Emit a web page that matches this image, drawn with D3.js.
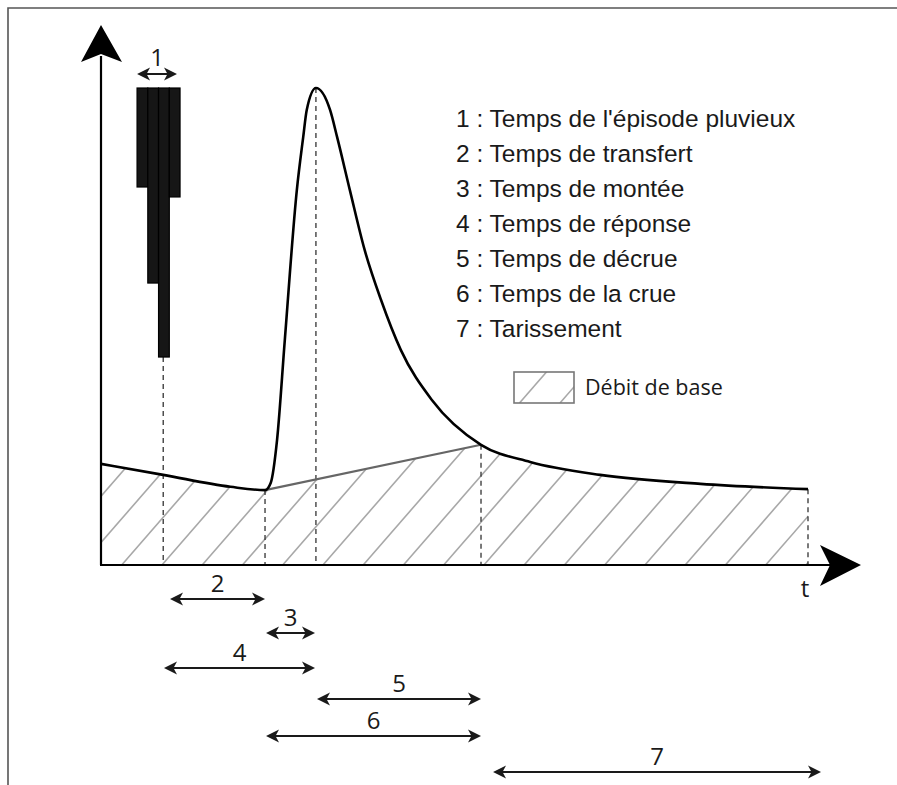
<!DOCTYPE html>
<html><head><meta charset="utf-8">
<script src="https://cdn.jsdelivr.net/npm/d3@7"></script>
<style>html,body{margin:0;padding:0;background:#fff;}svg{display:block;}</style>
</head><body>
<svg id="c" width="897" height="785"></svg>
<script>
// ---------- data ----------
const hydroT = [0, 8.8, 18.3, 23.2, 24.0, 24.9, 26.0, 27.7, 28.6, 29.1, 30.4, 32.4, 33.4, 35.2, 37.3, 39.6, 42.4, 46.8, 53.75, 60.7, 70.6, 84.8, 100];
const hydroQ = [21.2, 18.9, 16.4, 15.7, 17.2, 26.2, 47.2, 78.6, 89.7, 95.4, 100, 95.4, 89.7, 78.6, 66, 55.6, 45.1, 34.6, 25.2, 21.6, 18.9, 17.0, 15.9];
const baseT = [23.2, 53.75];
const baseQ = [15.7, 25.2];
const rainT = [5.1, 6.62, 8.14, 9.66];
const rainWidth = 1.52;
const rainI = [36.8, 72.5, 100, 40.5];
const markerT = [8.8, 23.2, 30.4, 53.75, 100];
const markerQ = [43.6, 15.7, 100, 25.2, 15.9];
const spanLabels = ["2", "3", "4", "5", "6", "7"];
const spanStart = [9.76, 23.34, 8.91, 30.55, 23.34, 55.45];
const spanEnd = [23.2, 30.27, 30.27, 53.75, 53.75, 101.84];
const rainSpan = [5.1, 10.75];
const legendItems = ["1 : Temps de l'épisode pluvieux", "2 : Temps de transfert", "3 : Temps de montée",
  "4 : Temps de réponse", "5 : Temps de décrue", "6 : Temps de la crue", "7 : Tarissement"];
const baseLegend = "Débit de base";
const axisLabel = "t";

// ---------- layout ----------
const spanRowY = [599, 633, 668, 699, 736, 772];
const svg = d3.select("#c");
const x = d3.scaleLinear().domain([0, 100]).range([101, 808]);
const y = d3.scaleLinear().domain([0, 100]).range([565, 88]);
const rainScale = d3.scaleLinear().domain([0, 100]).range([y(100), y(43.6)]);
const ink = "#1a1a1a";
const numFont = "'Open Sans', 'DejaVu Sans', sans-serif";

// border
svg.append("path").attr("d", "M8,790V8H900").attr("fill", "none").attr("stroke", "#555").attr("stroke-width", 1.6);

const defs = svg.append("defs");
const hydro = hydroT.map((t, i) => [t, hydroQ[i]]);
// clip A: under hydrograph
defs.append("clipPath").attr("id", "clipA").append("path")
  .attr("d", d3.area().x(d => x(d[0])).y0(y(0)).y1(d => y(d[1])).curve(d3.curveMonotoneX)(hydro));
// clip B: below baseflow separation line
const bpoly = [[-10, 200], [baseT[0], 200], [baseT[0], baseQ[0]], [baseT[1], baseQ[1]], [baseT[1], 200], [120, 200], [120, -10], [-10, -10]];
defs.append("clipPath").attr("id", "clipB").append("path")
  .attr("d", "M" + bpoly.map(p => x(p[0]) + "," + y(p[1])).join("L") + "Z");

// hatch
const slope = 1.15, step = 40.25, x0 = 121.7;
const gA = svg.append("g").attr("clip-path", "url(#clipA)");
const gB = gA.append("g").attr("clip-path", "url(#clipB)");
const H = 300;
for (let k = -8; k < 20; k++) {
  const bx = x0 + k * step;
  gB.append("line").attr("x1", bx).attr("y1", y(0)).attr("x2", bx + H / slope).attr("y2", y(0) - H)
    .attr("stroke", "#a8a8a8").attr("stroke-width", 1.6);
}

// dashed markers
svg.append("g").selectAll("line").data(markerT).join("line")
  .attr("x1", d => x(d)).attr("x2", d => x(d))
  .attr("y1", (d, i) => y(markerQ[i])).attr("y2", y(0))
  .attr("stroke", "#333").attr("stroke-width", 1.3).attr("stroke-dasharray", "5,4");

// rain bars
svg.append("g").selectAll("rect").data(rainI).join("rect")
  .attr("x", (d, i) => x(rainT[i])).attr("width", x(rainWidth) - x(0))
  .attr("y", rainScale(0)).attr("height", d => rainScale(d) - rainScale(0))
  .attr("fill", "#161616").attr("stroke", "#000").attr("stroke-width", 1.2);

// baseflow line
svg.append("path").attr("d", d3.line().x((d, i) => x(d)).y((d, i) => y(baseQ[i]))(baseT))
  .attr("fill", "none").attr("stroke", "#666").attr("stroke-width", 2.2);

// hydrograph
svg.append("path").attr("d", d3.line().x(d => x(d[0])).y(d => y(d[1])).curve(d3.curveMonotoneX)(hydro))
  .attr("fill", "none").attr("stroke", "#000").attr("stroke-width", 2.6).attr("stroke-linejoin", "round");

// axes
svg.append("line").attr("x1", x(0)).attr("y1", y(0)).attr("x2", x(0)).attr("y2", 56).attr("stroke", "#000").attr("stroke-width", 2.2);
svg.append("line").attr("x1", x(0) - 1).attr("y1", y(0)).attr("x2", 832).attr("y2", y(0)).attr("stroke", "#000").attr("stroke-width", 2.2);
svg.append("path").attr("d", `M${x(0)},25L${x(0) + 21},62L${x(0)},54L${x(0) - 20},62Z`).attr("fill", "#000");
svg.append("path").attr("d", `M861,${y(0)}L820,${y(0) - 20}L830,${y(0)}L820,${y(0) + 21}Z`).attr("fill", "#000");
svg.append("text").attr("x", 805).attr("y", 597).attr("text-anchor", "middle")
  .attr("font-family", numFont).attr("font-size", 24).attr("fill", ink).text(axisLabel);

// double arrows
function dblArrow(g, xa, xb, yy) {
  const L = 13, hw = 6.5, n = 3.5;
  g.append("line").attr("x1", xa + 4).attr("x2", xb - 4).attr("y1", yy).attr("y2", yy)
    .attr("stroke", ink).attr("stroke-width", 2.2);
  g.append("path").attr("d", `M${xa},${yy}L${xa + L},${yy - hw}L${xa + L - n},${yy}L${xa + L},${yy + hw}Z`).attr("fill", ink);
  g.append("path").attr("d", `M${xb},${yy}L${xb - L},${yy - hw}L${xb - L + n},${yy}L${xb - L},${yy + hw}Z`).attr("fill", ink);
}
const ga = svg.append("g");
spanLabels.forEach((lab, i) => {
  const xa = x(spanStart[i]), xb = x(spanEnd[i]), yy = spanRowY[i];
  dblArrow(ga, xa, xb, yy);
  ga.append("text").attr("x", (xa + xb) / 2).attr("y", yy - 7).attr("text-anchor", "middle")
    .attr("font-family", numFont).attr("font-size", 24).attr("fill", ink).text(lab);
});
dblArrow(ga, x(rainSpan[0]), x(rainSpan[1]), 74);
ga.append("text").attr("x", (x(rainSpan[0]) + x(rainSpan[1])) / 2).attr("y", 66).attr("text-anchor", "middle")
  .attr("font-family", numFont).attr("font-size", 24).attr("fill", ink).text("1");

// legend
const lg = svg.append("g");
lg.selectAll("text").data(legendItems).join("text")
  .attr("x", 456).attr("y", (d, i) => 126.5 + i * 35.1)
  .attr("font-family", "'Liberation Sans', Arial, sans-serif").attr("font-size", 24.5).attr("fill", ink).text(d => d);
defs.append("clipPath").attr("id", "clipL").append("rect").attr("x", 514).attr("y", 372).attr("width", 60).attr("height", 31);
const lh = lg.append("g").attr("clip-path", "url(#clipL)");
[519.5, 560].forEach(bx => {
  lh.append("line").attr("x1", bx).attr("y1", 403).attr("x2", bx + 40 / slope).attr("y2", 363)
    .attr("stroke", "#a8a8a8").attr("stroke-width", 1.6);
});
lg.append("rect").attr("x", 514).attr("y", 372).attr("width", 60).attr("height", 31)
  .attr("fill", "none").attr("stroke", "#777").attr("stroke-width", 1.6);
lg.append("text").attr("x", 585).attr("y", 395).attr("font-family", numFont).attr("font-size", 21.5)
  .attr("fill", ink).text(baseLegend);
</script>
</body></html>
